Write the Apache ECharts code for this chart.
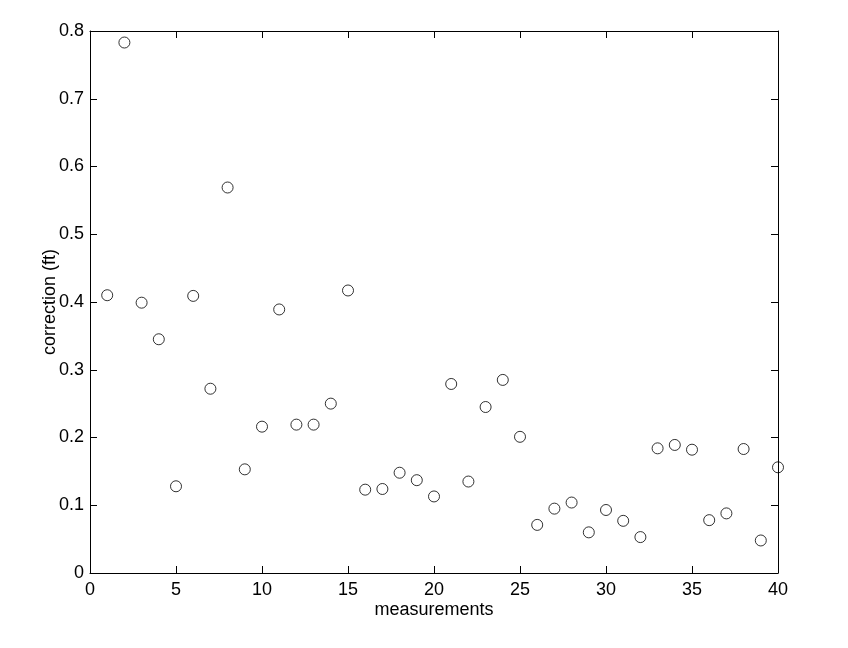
<!DOCTYPE html>
<html>
<head>
<meta charset="utf-8">
<script src="https://cdn.jsdelivr.net/npm/echarts@6/dist/echarts.min.js"></script>
<style>
  html, body { margin: 0; padding: 0; background: #fff; }
  #main { width: 848px; height: 648px; }
</style>
</head>
<body>
<div id="main"></div>
<script>
// measurement index and correction values (ft)
var measurements = [1, 2, 3, 4, 5, 6, 7, 8, 9, 10, 11, 12, 13, 14, 15, 16, 17, 18, 19, 20,
  21, 22, 23, 24, 25, 26, 27, 28, 29, 30, 31, 32, 33, 34, 35, 36, 37, 38, 39, 40];
var corrections = [0.410, 0.783, 0.399, 0.345, 0.128, 0.409, 0.272, 0.569, 0.153, 0.216,
  0.389, 0.219, 0.219, 0.250, 0.417, 0.123, 0.124, 0.148, 0.137, 0.113,
  0.279, 0.135, 0.245, 0.285, 0.201, 0.071, 0.095, 0.104, 0.060, 0.093,
  0.077, 0.053, 0.184, 0.189, 0.182, 0.078, 0.088, 0.183, 0.048, 0.156];

var points = measurements.map(function (m, i) { return [m, corrections[i]]; });

var chart = echarts.init(document.getElementById('main'));

var font = 'Liberation Sans, Arial, Helvetica, sans-serif';

// one side of the box; top/right copies only carry inward ticks
function frameAxis(pos, min, max, step, withLabels, margin) {
  return {
    type: 'value', position: pos, min: min, max: max, interval: step,
    axisLine: { show: true, onZero: false, lineStyle: { color: '#000', width: 1 } },
    axisTick: { show: true, inside: true, length: 7, lineStyle: { color: '#000', width: 1 } },
    axisLabel: { show: withLabels, color: '#000', fontSize: 18, fontFamily: font, margin: margin },
    splitLine: { show: false }
  };
}

var x0 = frameAxis('bottom', 0, 40, 5, true, 8);
x0.name = 'measurements';
x0.nameLocation = 'middle';
x0.nameGap = 28;
x0.nameMoveOverlap = false;
x0.nameTextStyle = { color: '#000', fontSize: 18, fontFamily: font };

var y0 = frameAxis('left', 0, 0.8, 0.1, true, 6);
y0.name = 'correction (ft)';
y0.nameLocation = 'middle';
y0.nameGap = 31;
y0.nameMoveOverlap = false;
y0.nameTextStyle = { color: '#000', fontSize: 18, fontFamily: font };
y0.axisLabel.formatter = function (v) { return v === 0 ? '0' : v.toFixed(1); };

var option = {
  backgroundColor: '#fff',
  animation: false,
  grid: { left: 90, top: 31, right: 70, bottom: 75, containLabel: false },
  xAxis: [x0, frameAxis('top', 0, 40, 5, false, 6)],
  yAxis: [y0, frameAxis('right', 0, 0.8, 0.1, false, 6)],
  series: [{
    type: 'scatter',
    data: points,
    symbol: 'circle',
    symbolSize: 11,
    itemStyle: { color: 'rgba(0,0,0,0)', borderColor: '#000', borderWidth: 1 }
  }, {
    type: 'scatter',
    xAxisIndex: 1,
    yAxisIndex: 1,
    data: [],
    silent: true
  }]
};

chart.setOption(option);
</script>
</body>
</html>
